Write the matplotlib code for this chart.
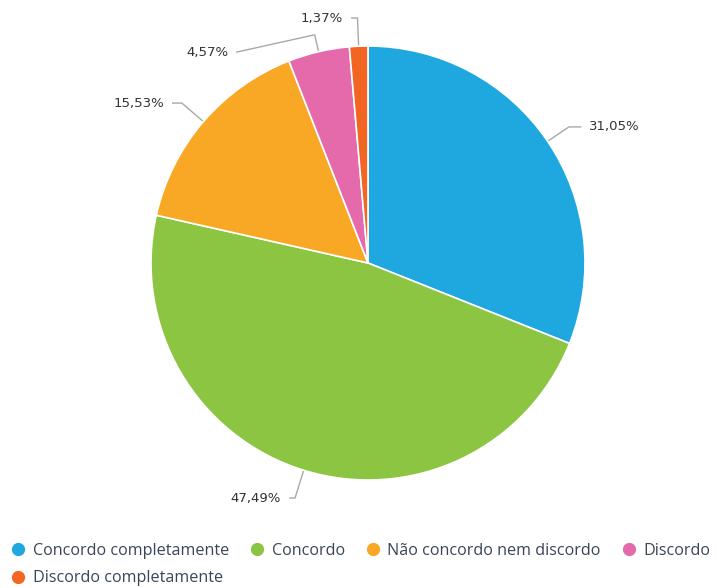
import matplotlib.pyplot as plt
from matplotlib.lines import Line2D
import numpy as np

categorias = ['Concordo completamente', 'Concordo', 'Não concordo nem discordo',
              'Discordo', 'Discordo completamente']
percentuais = [31.05, 47.49, 15.53, 4.57, 1.37]
cores = ['#1fa8e0', '#8bc541', '#f9a825', '#e56aab', '#f26522']

# where each label text sits (pie units) and the radius of the leader elbow
pos_rotulos = [(1.02, 0.627), (-0.40, -1.083), (-0.94, 0.737), (-0.645, 0.972), (-0.115, 1.129)]
r_cotovelo = [None, None, None, 1.08, None]

fig = plt.figure(figsize=(7.17, 5.88), dpi=100)
cx, cy, r = 368, 263, 217
ax = fig.add_axes([(cx - r) / 717, (588 - cy - r) / 588, 2 * r / 717, 2 * r / 588])

wedges, _ = ax.pie(percentuais, colors=cores, startangle=90, counterclock=False,
                   radius=1, wedgeprops=dict(edgecolor='white', linewidth=1.2))
ax.set_xlim(-1, 1)
ax.set_ylim(-1, 1)
ax.set_aspect('equal')
ax.axis('off')

for w, val, (lx, ly), rc in zip(wedges, percentuais, pos_rotulos, r_cotovelo):
    ang = np.deg2rad((w.theta1 + w.theta2) / 2)
    x0, y0 = np.cos(ang), np.sin(ang)
    if rc is None:
        # elbow on the radial line at the label height
        rr = ly / np.sin(ang)
        ex, ey = rr * np.cos(ang), ly
    else:
        ex, ey = rc * np.cos(ang), rc * np.sin(ang)
    lado = 1 if lx > x0 else -1
    fim = lx - lado * 0.04
    ax.plot([x0, ex, fim], [y0, ey, ly], color='#a8a8a8', lw=1,
            solid_joinstyle='round', clip_on=False, zorder=0)
    ax.text(lx, ly, f'{val:.2f}%'.replace('.', ','), fontsize=9.5, color='#333333',
            ha='left' if lado > 0 else 'right', va='center', clip_on=False)

# legend is filled column by column, so put the last item under the first
ordem = [0, 4, 1, 2, 3]
handles = [Line2D([], [], marker='o', linestyle='', markersize=8.5,
                  markerfacecolor=cores[i], markeredgecolor=cores[i]) for i in ordem]
fig.legend(handles, [categorias[i] for i in ordem], loc='lower left',
           bbox_to_anchor=(-0.005, -0.022), ncol=4, frameon=False,
           handletextpad=0.5, columnspacing=1.3, handlelength=0.85,
           labelspacing=0.72, borderpad=0.4,
           prop={'family': 'Open Sans', 'size': 11.6}, labelcolor='#3a4658')

fig.savefig('out.png', dpi=100)
